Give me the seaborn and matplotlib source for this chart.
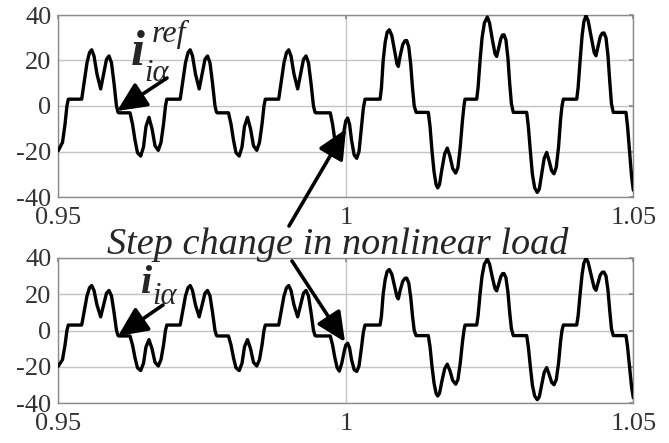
import matplotlib
matplotlib.use("Agg")
import matplotlib.pyplot as plt
import seaborn as sns
import pandas as pd

# ---------------- data (time in ms, current in A) ----------------
t_ms = [
    950.00, 950.73, 951.17, 951.50, 951.74,
    954.07, 954.47, 954.99, 955.43, 955.81, 956.21, 956.73, 957.37, 957.95, 958.38, 958.82,
    959.25, 959.69, 960.12, 960.38, 960.52, 962.47, 962.91, 963.34, 963.77, 964.33, 964.82,
    965.25, 965.77, 966.30, 966.82, 967.39, 967.86, 968.30, 968.64, 968.87,
    971.20, 971.60, 972.12, 972.56, 972.94, 973.34, 973.86, 974.50, 975.08, 975.51, 975.95,
    976.38, 976.82, 977.25, 977.51, 977.65, 979.60, 980.04, 980.47, 980.90, 981.46, 981.95,
    982.38, 982.90, 983.43, 983.95, 984.52, 984.99, 985.43, 985.77, 986.00,
    988.33, 988.73, 989.25, 989.69, 990.07, 990.47, 990.99, 991.63, 992.21, 992.64, 993.08,
    993.51, 993.95, 994.38, 994.64, 994.78, 997.30, 997.70, 998.10, 998.50, 998.87, 999.30,
    999.75, 1000.00, 1000.33, 1000.65, 1001.00, 1001.45, 1001.90, 1002.30, 1002.70, 1003.05, 1003.34,
    1005.96, 1006.20, 1006.50, 1006.85, 1007.20, 1007.57, 1008.00, 1008.50, 1008.90, 1009.13,
    1009.45, 1009.90, 1010.30, 1010.59, 1010.95, 1011.30, 1011.60, 1011.90, 1012.23,
    1014.35, 1014.65, 1015.00, 1015.35, 1015.70, 1015.98, 1016.30, 1016.70, 1017.20, 1017.65,
    1018.10, 1018.60, 1019.11, 1019.50, 1019.90, 1020.30, 1020.55, 1020.73,
    1022.77, 1023.00, 1023.35, 1023.70, 1024.10, 1024.61, 1025.00, 1025.50, 1025.95, 1026.24,
    1026.55, 1026.95, 1027.25, 1027.51, 1027.85, 1028.20, 1028.50, 1028.80, 1029.13,
    1031.46, 1031.75, 1032.10, 1032.45, 1032.85, 1033.30, 1033.65, 1034.05, 1034.50, 1034.94,
    1035.35, 1035.80, 1036.21, 1036.60, 1037.00, 1037.35, 1037.60, 1037.83,
    1040.16, 1040.40, 1040.75, 1041.10, 1041.40, 1041.77, 1042.15, 1042.70, 1043.20, 1043.51,
    1043.85, 1044.25, 1044.60, 1044.90, 1045.25, 1045.60, 1045.90, 1046.20, 1046.52,
    1048.73, 1049.00, 1049.35, 1049.70, 1050.00,
]

i_ref = [
    -19.6, -16.0, -8.0, 0.0, 3.0,
    3.0, 10.0, 19.0, 23.5, 24.7, 22.0, 14.0, 7.5, 15.0, 20.5, 22.0,
    19.0, 10.0, 0.0, -2.7, -3.0, -3.0, -8.0, -15.0, -20.5, -22.0, -18.0,
    -9.0, -5.0, -10.0, -17.5, -19.5, -16.0, -8.0, 0.0, 3.0,
    3.0, 10.0, 19.0, 23.5, 24.7, 22.0, 14.0, 7.5, 15.0, 20.5, 22.0,
    19.0, 10.0, 0.0, -2.7, -3.0, -3.0, -8.0, -15.0, -20.5, -22.0, -18.0,
    -9.0, -5.0, -10.0, -17.5, -19.5, -16.0, -8.0, 0.0, 3.0,
    3.0, 10.0, 19.0, 23.5, 24.7, 22.0, 14.0, 7.5, 15.0, 20.5, 22.0,
    19.0, 10.0, 0.0, -2.7, -3.0, -3.0, -8.0, -15.0, -20.5, -22.0, -18.0,
    -10.0, -6.5, -5.3, -8.0, -15.0, -21.5, -23.0, -20.0, -10.0, -1.0, 3.0,
    3.0, 8.0, 20.0, 28.0, 32.5, 33.5, 31.0, 24.0, 18.5, 17.4,
    22.0, 27.0, 28.7, 28.8, 26.0, 18.0, 8.0, 0.0, -2.8,
    -2.8, -9.0, -20.0, -29.0, -34.5, -36.0, -34.5, -28.0, -21.0, -18.5,
    -22.0, -27.5, -29.5, -27.0, -18.0, -6.0, 0.0, 3.0,
    3.0, 8.0, 20.0, 30.0, 36.5, 39.1, 36.5, 29.0, 23.0, 21.8,
    25.0, 29.5, 31.2, 31.3, 29.0, 21.0, 10.0, 1.0, -2.8,
    -2.8, -9.0, -20.0, -30.0, -36.0, -38.0, -36.5, -30.0, -23.0, -20.4,
    -24.0, -28.5, -29.8, -27.0, -18.0, -6.0, 0.0, 3.0,
    3.0, 8.0, 20.0, 31.0, 37.0, 39.7, 37.5, 30.0, 23.5, 22.1,
    26.0, 30.5, 32.0, 32.1, 30.0, 22.0, 11.0, 1.0, -2.8,
    -2.8, -9.0, -20.0, -31.0, -37.0,
]

i_meas = [
    -19.6, -16.0, -8.0, 0.0, 3.0,
    3.0, 10.0, 19.0, 23.5, 24.7, 22.0, 14.0, 7.5, 15.0, 20.5, 22.0,
    19.0, 10.0, 0.0, -2.7, -3.0, -3.0, -8.0, -15.0, -20.5, -22.0, -18.0,
    -9.0, -5.0, -10.0, -17.5, -19.5, -16.0, -8.0, 0.0, 3.0,
    3.0, 10.0, 19.0, 23.5, 24.7, 22.0, 14.0, 7.5, 15.0, 20.5, 22.0,
    19.0, 10.0, 0.0, -2.7, -3.0, -3.0, -8.0, -15.0, -20.5, -22.0, -18.0,
    -9.0, -5.0, -10.0, -17.5, -19.5, -16.0, -8.0, 0.0, 3.0,
    3.0, 10.0, 19.0, 23.5, 24.7, 22.0, 14.0, 7.5, 15.0, 20.5, 22.0,
    19.0, 10.0, 0.0, -2.7, -3.0, -3.0, -8.0, -15.0, -20.5, -22.3, -18.0,
    -11.0, -8.0, -7.0, -9.5, -16.0, -21.5, -22.5, -19.5, -10.0, -1.0, 3.0,
    3.0, 8.0, 20.0, 28.0, 32.5, 33.5, 31.0, 24.0, 18.5, 17.4,
    22.0, 27.0, 28.7, 28.8, 26.0, 18.0, 8.0, 0.0, -2.8,
    -2.8, -9.0, -20.0, -29.0, -34.5, -36.0, -34.5, -28.0, -21.0, -18.5,
    -22.0, -27.5, -29.5, -27.0, -18.0, -6.0, 0.0, 3.0,
    3.0, 8.0, 20.0, 30.0, 36.5, 39.1, 36.5, 29.0, 23.0, 21.8,
    25.0, 29.5, 31.2, 31.3, 29.0, 21.0, 10.0, 1.0, -2.8,
    -2.8, -9.0, -20.0, -30.0, -36.0, -38.0, -36.5, -30.0, -23.0, -20.4,
    -24.0, -28.5, -29.8, -27.0, -18.0, -6.0, 0.0, 3.0,
    3.0, 8.0, 20.0, 31.0, 37.0, 39.7, 37.5, 30.0, 23.5, 22.1,
    26.0, 30.5, 32.0, 32.1, 30.0, 22.0, 11.0, 1.0, -2.8,
    -2.8, -9.0, -20.0, -31.0, -37.0,
]

x_ticks = [0.95, 1.0, 1.05]
x_ticklabels = ["0.95", "1", "1.05"]
y_ticks = [-40, -20, 0, 20, 40]
y_ticklabels = ["-40", "-20", "0", "20", "40"]
annotation_text = "Step change in nonlinear load"

# ---------------- styling ----------------
sns.set_theme(style="white")
plt.rcParams["font.family"] = ["Liberation Serif", "DejaVu Serif"]

W, H = 669, 443
fig = plt.figure(figsize=(W / 100, H / 100), dpi=100)

def px_axes(left, top, right, bottom):
    return fig.add_axes([left / W, 1 - bottom / H, (right - left) / W, (bottom - top) / H])

ax1 = px_axes(58.3, 15, 633.3, 197)
ax2 = px_axes(58.3, 257.7, 633.3, 403.3)

df1 = pd.DataFrame({"t": [v / 1000 for v in t_ms], "i": i_ref})
df2 = pd.DataFrame({"t": [v / 1000 for v in t_ms], "i": i_meas})

for ax, df in ((ax1, df1), (ax2, df2)):
    sns.lineplot(data=df, x="t", y="i", ax=ax, color="black", linewidth=2.4,
                 sort=False, estimator=None, zorder=3)
    ax.set_xlim(0.95, 1.05)
    ax.set_ylim(-40, 40)
    ax.set_xticks(x_ticks)
    ax.set_xticklabels(x_ticklabels)
    ax.set_yticks(y_ticks)
    ax.set_yticklabels(y_ticklabels)
    ax.set_xlabel("")
    ax.set_ylabel("")
    ax.grid(True, color="#c4c4c4", linewidth=1.0)
    ax.set_axisbelow(True)
    for s in ax.spines.values():
        s.set_color("#8a8a8a")
        s.set_linewidth(1.0)
    ax.tick_params(axis="both", labelsize=19, length=3,
                   direction="in", top=True, right=True, color="#8a8a8a")
    ax.tick_params(axis="y", pad=5)
    ax.tick_params(axis="x", pad=7)
    for lab in ax.get_xticklabels() + ax.get_yticklabels():
        lab.set_color("#333333")

# ---------------- annotations ----------------
def fp(x, y):
    return (x, H - y)

def arrow(p0, p1):
    fig.add_artist(matplotlib.patches.FancyArrowPatch(
        fp(*p0), fp(*p1), transform=None,
        arrowstyle="-|>,head_length=0.9,head_width=0.42", mutation_scale=20,
        color="black", lw=2.6, shrinkA=0, shrinkB=0, zorder=11))

# top label i_{i alpha}^{ref}
fig.text(131 / W, 1 - 65 / H, "i", fontsize=36, fontweight="bold", fontstyle="italic",
         ha="left", va="baseline")
fig.text(152 / W, 1 - 42 / H, "ref", fontsize=23, fontstyle="italic",
         ha="left", va="baseline")
fig.text(144 / W, 1 - 81 / H, "i\u03b1", fontsize=22, fontstyle="italic",
         ha="left", va="baseline")
arrow((167, 78), (117, 111))

# bottom label i_{i alpha}
fig.text(141 / W, 1 - 293 / H, "i", fontsize=29, fontweight="bold", fontstyle="italic",
         ha="left", va="baseline")
fig.text(152 / W, 1 - 304 / H, "i\u03b1", fontsize=22, fontstyle="italic",
         ha="left", va="baseline")
arrow((163, 305), (118, 336))

# step change text and arrows
fig.text(107 / W, 1 - 254 / H, annotation_text, fontsize=27.5, fontstyle="italic",
         ha="left", va="baseline", zorder=10)
arrow((289, 226), (346, 129))
arrow((292, 261), (345, 342))

fig.savefig("out.png", dpi=100)
